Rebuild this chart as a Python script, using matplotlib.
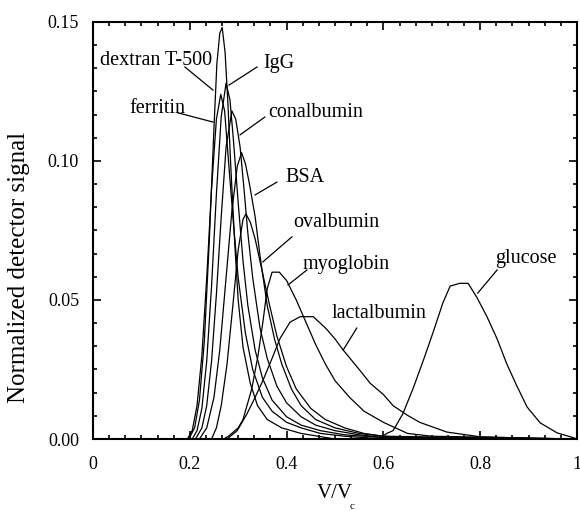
import numpy as np
import matplotlib
matplotlib.use('Agg')
import matplotlib.pyplot as plt
from matplotlib.ticker import MultipleLocator, AutoMinorLocator, FormatStrFormatter, FuncFormatter

plt.rcParams['font.family'] = ['Liberation Serif', 'DejaVu Serif']

# elution profiles (x = V/Vc, y = normalized signal)
dextran_x = [0, 0.198, 0.21, 0.22, 0.23, 0.24, 0.25, 0.256, 0.262, 0.267, 0.273, 0.279, 0.285, 0.293, 0.30, 0.31, 0.325, 0.34, 0.36, 0.39, 0.43, 0.5, 1.0]
dextran_y = [0, 0, 0.004, 0.014, 0.035, 0.07, 0.112, 0.135, 0.146, 0.148, 0.139, 0.12, 0.097, 0.07, 0.05, 0.033, 0.02, 0.012, 0.007, 0.004, 0.002, 0, 0]

ferritin_x = [0, 0.195, 0.205, 0.215, 0.225, 0.235, 0.245, 0.255, 0.264, 0.272, 0.28, 0.29, 0.30, 0.315, 0.33, 0.35, 0.37, 0.40, 0.43, 0.47, 0.52, 0.6, 1.0]
ferritin_y = [0, 0, 0.003, 0.012, 0.03, 0.058, 0.09, 0.115, 0.124, 0.118, 0.10, 0.078, 0.058, 0.038, 0.025, 0.015, 0.01, 0.006, 0.004, 0.002, 0.001, 0, 0]

igg_x = [0, 0.205, 0.215, 0.225, 0.235, 0.245, 0.255, 0.265, 0.275, 0.283, 0.29, 0.30, 0.31, 0.32, 0.335, 0.35, 0.37, 0.40, 0.43, 0.47, 0.52, 0.6, 1.0]
igg_y = [0, 0, 0.003, 0.011, 0.028, 0.055, 0.088, 0.116, 0.128, 0.122, 0.108, 0.085, 0.064, 0.048, 0.032, 0.022, 0.014, 0.008, 0.005, 0.003, 0.0015, 0.0005, 0]

conalb_x = [0, 0.212, 0.225, 0.235, 0.245, 0.255, 0.265, 0.275, 0.287, 0.295, 0.304, 0.312, 0.32, 0.33, 0.345, 0.36, 0.38, 0.40, 0.43, 0.46, 0.50, 0.55, 0.6, 1.0]
conalb_y = [0, 0, 0.004, 0.012, 0.028, 0.052, 0.08, 0.105, 0.118, 0.115, 0.105, 0.09, 0.074, 0.058, 0.04, 0.029, 0.019, 0.013, 0.008, 0.005, 0.003, 0.0015, 0.0005, 0]

bsa_x = [0, 0.22, 0.235, 0.25, 0.262, 0.275, 0.287, 0.298, 0.307, 0.315, 0.323, 0.335, 0.345, 0.36, 0.375, 0.39, 0.41, 0.43, 0.46, 0.50, 0.55, 0.6, 1.0]
bsa_y = [0, 0, 0.004, 0.015, 0.032, 0.058, 0.082, 0.098, 0.103, 0.099, 0.092, 0.08, 0.066, 0.048, 0.036, 0.027, 0.018, 0.012, 0.007, 0.004, 0.002, 0.001, 0]

ovalb_x = [0, 0.245, 0.255, 0.265, 0.277, 0.289, 0.30, 0.31, 0.316, 0.325, 0.335, 0.35, 0.365, 0.38, 0.40, 0.42, 0.45, 0.48, 0.52, 0.56, 0.6, 0.65, 1.0]
ovalb_y = [0, 0, 0.004, 0.012, 0.027, 0.048, 0.068, 0.079, 0.081, 0.078, 0.072, 0.06, 0.048, 0.037, 0.026, 0.018, 0.011, 0.007, 0.004, 0.002, 0.001, 0.0005, 0]

myo_x = [0, 0.27, 0.28, 0.30, 0.31, 0.328, 0.341, 0.351, 0.36, 0.37, 0.385, 0.40, 0.42, 0.44, 0.46, 0.48, 0.50, 0.53, 0.56, 0.60, 0.65, 0.70, 1.0]
myo_y = [0, 0, 0.001, 0.004, 0.007, 0.018, 0.030, 0.042, 0.054, 0.060, 0.060, 0.057, 0.050, 0.042, 0.034, 0.027, 0.021, 0.015, 0.010, 0.006, 0.002, 0.001, 0]

lact_x = [0, 0.277, 0.298, 0.318, 0.335, 0.351, 0.37, 0.386, 0.407, 0.428, 0.455, 0.48, 0.50, 0.517, 0.55, 0.573, 0.60, 0.62, 0.65, 0.675, 0.731, 0.80, 0.9, 1.0]
lact_y = [0, 0, 0.003, 0.009, 0.015, 0.021, 0.029, 0.036, 0.042, 0.044, 0.044, 0.040, 0.036, 0.032, 0.025, 0.020, 0.016, 0.012, 0.0085, 0.006, 0.0025, 0.0008, 0.0003, 0]

gluc_x = [0, 0.59, 0.607, 0.620, 0.640, 0.661, 0.682, 0.702, 0.723, 0.738, 0.758, 0.775, 0.793, 0.814, 0.835, 0.855, 0.876, 0.897, 0.924, 0.959, 0.992, 1.0]
gluc_y = [0, 0, 0.002, 0.003, 0.009, 0.018, 0.028, 0.038, 0.049, 0.055, 0.056, 0.056, 0.051, 0.044, 0.036, 0.027, 0.019, 0.0115, 0.0058, 0.0022, 0.0005, 0]

curves = [(dextran_x, dextran_y), (ferritin_x, ferritin_y), (igg_x, igg_y),
          (conalb_x, conalb_y), (bsa_x, bsa_y), (ovalb_x, ovalb_y),
          (myo_x, myo_y), (lact_x, lact_y), (gluc_x, gluc_y)]

# label text, text position, pointer line
labels = ['dextran T-500', 'IgG', 'ferritin', 'conalbumin', 'BSA',
          'ovalbumin', 'myoglobin', 'lactalbumin', 'glucose']
label_xy = [(0.0145, 0.1363), (0.351, 0.135), (0.076, 0.119), (0.362, 0.1176),
            (0.397, 0.0942), (0.413, 0.0777), (0.432, 0.0626), (0.494, 0.0453),
            (0.831, 0.0651)]
line_from = [(0.19, 0.1338), (0.339, 0.1338), (0.176, 0.1173), (0.355, 0.1158),
             (0.38, 0.0924), (0.411, 0.0727), (0.442, 0.0608), (0.545, 0.0399),
             (0.835, 0.0608)]
line_to = [(0.248, 0.1255), (0.281, 0.1273), (0.248, 0.114), (0.304, 0.1094),
           (0.335, 0.0878), (0.351, 0.0637), (0.403, 0.0554), (0.517, 0.032),
           (0.795, 0.0525)]

fig = plt.figure(figsize=(5.8, 5.11), dpi=100)
ax = fig.add_axes([0.1603, 0.1409, 0.8345, 0.8161])

for x, y in curves:
    ax.plot(x, y, color='k', linewidth=0.9)

for lab, (tx, ty), (fx, fy), (px, py) in zip(labels, label_xy, line_from, line_to):
    ax.text(tx, ty, lab, fontsize=14.5, va='center', ha='left')
    ax.plot([fx, px], [fy, py], color='k', linewidth=0.9)

ax.set_xlim(0, 1)
ax.set_ylim(0, 0.15)
ax.xaxis.set_major_locator(MultipleLocator(0.2))
ax.yaxis.set_major_locator(MultipleLocator(0.05))
ax.xaxis.set_minor_locator(AutoMinorLocator(6))
ax.yaxis.set_minor_locator(AutoMinorLocator(6))
ax.xaxis.set_major_formatter(FuncFormatter(lambda v, p: '%g' % round(v, 2)))
ax.yaxis.set_major_formatter(FormatStrFormatter('%.2f'))
ax.tick_params(which='both', direction='in', top=True, right=True, width=1.2, labelsize=13)
ax.tick_params(which='major', length=6)
ax.tick_params(which='minor', length=3)
ax.tick_params(axis='x', pad=12)
ax.tick_params(axis='y', pad=10)
for s in ax.spines.values():
    s.set_linewidth(1.5)

fig.text(0.033, 0.477, 'Normalized detector signal', fontsize=18, rotation=90,
         ha='center', va='center')
fig.text(0.578, 0.035, 'V/V', fontsize=15, ha='center', va='center')
fig.text(0.607, 0.008, 'c', fontsize=8, ha='center', va='center')

fig.savefig('out.png', dpi=100)
